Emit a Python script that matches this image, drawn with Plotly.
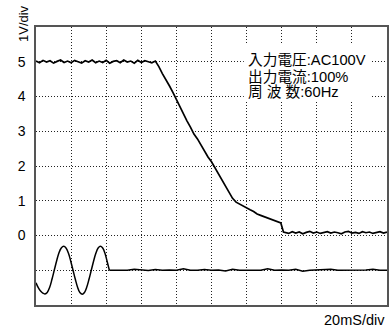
import plotly.graph_objects as go

# 出力電圧 (V), 2 ms 毎
vout_t = list(range(0, 70, 2)) + list(range(70, 140, 2)) + [139.5, 141] + list(range(142, 201, 2))
vout = [5.02, 4.97, 5.04, 4.99, 5.03, 4.96, 5.01, 5.05, 4.98, 5.02, 4.97, 5.04, 5.00, 4.96,
        5.03, 4.99, 5.05, 4.97, 5.02, 4.98, 5.04, 4.96, 5.01, 5.03, 4.97, 5.05, 4.99, 5.02,
        4.96, 5.04, 4.98, 5.03, 5.00, 4.97, 5.02,
        4.86, 4.66, 4.50, 4.31, 4.12, 3.91, 3.70, 3.52, 3.30, 3.12, 2.92, 2.78, 2.60, 2.45,
        2.26, 2.12, 1.95, 1.76, 1.61, 1.42, 1.26, 1.07, 0.96, 0.90, 0.84, 0.80, 0.74, 0.69,
        0.62, 0.58, 0.54, 0.51, 0.47, 0.43, 0.40,
        0.36, 0.10,
        0.09, 0.06, 0.11, 0.07, 0.10, 0.05, 0.09, 0.12, 0.07, 0.10, 0.06, 0.09, 0.11, 0.07,
        0.10, 0.08, 0.05, 0.10, 0.12, 0.07, 0.09, 0.06, 0.11, 0.08, 0.10, 0.06, 0.09, 0.11,
        0.07, 0.10]

# 入力電圧 (AC 60Hz, 遮断まで)
vin_t_ac = [0, 1.3, 2.6, 3.9, 5.1, 6.4, 7.8, 9.1, 10.4, 11.7, 13.0, 14.4, 15.8, 17.1, 18.5,
            19.8, 21.1, 22.4, 23.7, 25.0, 26.4, 27.6, 28.9, 30.2, 31.5, 32.8, 34.1, 35.4,
            36.7, 38.0, 39.3, 40.5, 41.8]
vin_ac = [-1.36, -1.50, -1.60, -1.66, -1.68, -1.64, -1.49, -1.26, -1.0, -0.74, -0.51, -0.36,
          -0.31, -0.36, -0.51, -0.74, -1.0, -1.26, -1.49, -1.64, -1.69, -1.64, -1.49, -1.26,
          -1.0, -0.74, -0.51, -0.36, -0.31, -0.36, -0.51, -0.74, -1.0]
# 遮断後
vin_t_off = [41.8] + list(range(44, 201, 4))
vin_off = [-1.0, -1.0, -0.99, -1.0, -0.97, -1.0, -1.01, -0.98, -1.0, -0.99, -1.0, -0.96, -1.0,
           -1.0, -0.98, -1.0, -0.99, -1.02, -0.97, -1.0, -1.0, -0.98, -1.0, -0.96, -1.0, -0.99,
           -1.0, -0.97, -1.03, -1.0, -0.99, -1.0, -0.97, -1.0, -1.0, -0.98, -1.0, -0.99, -0.97,
           -1.0, -1.0]

y_ticks = [-1, 0, 1, 2, 3, 4, 5]
y_labels = ['', '0', '1', '2', '3', '4', '5']
x_ticks = list(range(0, 201, 20))

info = ['入力電圧:AC100V', '出力電流:100%', '周 波 数:60Hz']
info_y = [5.05, 4.57, 4.14]

font = 'Liberation Sans, Arial, Noto Sans CJK JP'

fig = go.Figure()
fig.add_trace(go.Scatter(x=vout_t, y=vout, mode='lines', line=dict(color='black', width=1.7)))
fig.add_trace(go.Scatter(x=vin_t_ac, y=vin_ac, mode='lines', line=dict(color='black', width=1.5, shape='spline')))
fig.add_trace(go.Scatter(x=vin_t_off, y=vin_off, mode='lines', line=dict(color='black', width=1.5)))

# 文字の下の白地
fig.add_shape(type='rect', x0=118.4, x1=190.4, y0=3.84, y1=5.54, layer='between',
              fillcolor='white', line_width=0)

for txt, yy in zip(info, info_y):
    fig.add_annotation(x=119.8, y=yy, text=txt, showarrow=False, xanchor='left', yanchor='middle',
                       font=dict(size=14.7, color='black', family=font))

fig.add_annotation(xref='paper', yref='paper', x=-0.034, y=1.011, text='1V/div', textangle=-90,
                   showarrow=False, xanchor='center', yanchor='middle',
                   font=dict(size=13, color='black', family=font))
fig.add_annotation(xref='paper', yref='paper', x=1.0, y=-0.054, text='20mS/div',
                   showarrow=False, xanchor='right', yanchor='middle',
                   font=dict(size=14.5, color='black', family=font))

fig.update_layout(
    width=390, height=331, margin=dict(l=36, r=1, t=27, b=26),
    plot_bgcolor='white', paper_bgcolor='white', showlegend=False,
    font=dict(family=font, size=14, color='black'),
    xaxis=dict(range=[0, 200], tickvals=x_ticks, showticklabels=False, showgrid=True,
               gridcolor='#222', griddash='1px,2px', gridwidth=1, zeroline=False,
               showline=True, linecolor='#555', linewidth=1.5, mirror=True),
    yaxis=dict(range=[-2, 6], tickvals=y_ticks, ticktext=y_labels, showgrid=True,
               gridcolor='#222', griddash='1px,2px', gridwidth=1, zeroline=False,
               ticklabelstandoff=6, tickfont=dict(size=14),
               showline=True, linecolor='#555', linewidth=1.5, mirror=True),
)

fig.write_html('out.html', config={'displayModeBar': False},
               post_script="document.body.style.margin='0';")
